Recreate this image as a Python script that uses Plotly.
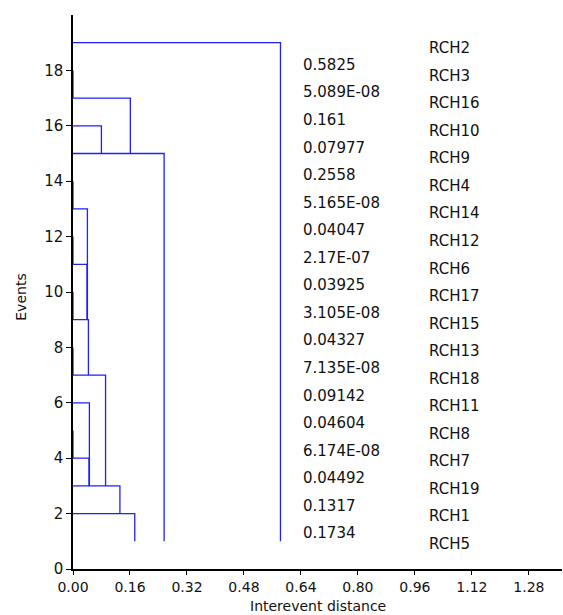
import plotly.graph_objects as go

# Leaf labels, top to bottom
leaves = ["RCH2", "RCH3", "RCH16", "RCH10", "RCH9", "RCH4", "RCH14", "RCH12", "RCH6",
          "RCH17", "RCH15", "RCH13", "RCH18", "RCH11", "RCH8", "RCH7", "RCH19", "RCH1", "RCH5"]

# Merge distances between consecutive leaves (top to bottom)
distances = [0.5825, 5.089e-08, 0.161, 0.07977, 0.2558, 5.165e-08, 0.04047, 2.17e-07,
             0.03925, 3.105e-08, 0.04327, 7.135e-08, 0.09142, 0.04604, 6.174e-08,
             0.04492, 0.1317, 0.1734]

distance_text = ["0.5825", "5.089E-08", "0.161", "0.07977", "0.2558", "5.165E-08", "0.04047",
                 "2.17E-07", "0.03925", "3.105E-08", "0.04327", "7.135E-08", "0.09142",
                 "0.04604", "6.174E-08", "0.04492", "0.1317", "0.1734"]

x_ticks = [0.00, 0.16, 0.32, 0.48, 0.64, 0.80, 0.96, 1.12, 1.28]
y_ticks = [0, 2, 4, 6, 8, 10, 12, 14, 16, 18]

n = len(leaves)
top = n  # y level of the first merge

xs, ys = [], []
for k, d in enumerate(distances):
    y = top - k
    # vertical goes down to next merge with larger distance
    y_bot = 1
    for j in range(k + 1, len(distances)):
        if distances[j] > d:
            y_bot = top - j
            break
    xs += [0, d, d, None]
    ys += [y, y, y_bot, None]

fig = go.Figure()
fig.add_trace(go.Scatter(x=xs, y=ys, mode="lines",
                         line=dict(color="#1f1fff", width=1.3),
                         hoverinfo="skip", showlegend=False))

font = "DejaVu Sans"
tc = "#111"
H, T, B = 615, 15, 46
ph = H - T - B
annotations = []
for k, t in enumerate(distance_text):
    annotations.append(dict(x=0.64, y=18.2 - k * 0.995, text=t, showarrow=False,
                            xanchor="left", yanchor="middle", xref="x", yref="y",
                            font=dict(family=font, size=15, color=tc)))
for i, t in enumerate(leaves):
    annotations.append(dict(x=0.993, y=18.8 - i * 0.994, text=t, showarrow=False,
                            xanchor="left", yanchor="middle", xref="x", yref="y",
                            font=dict(family=font, size=15, color=tc)))
# axis titles
annotations.append(dict(x=0.5, y=-(606 - (H - B)) / ph, xref="paper", yref="paper",
                        text="Interevent distance",
                        showarrow=False, xanchor="center", yanchor="middle",
                        font=dict(family=font, size=14, color=tc)))
annotations.append(dict(x=-0.108, y=0.49, xref="paper", yref="paper", text="Events",
                        showarrow=False, xanchor="center", yanchor="middle", textangle=-90,
                        font=dict(family=font, size=14, color=tc)))

fig.update_layout(
    width=563, height=H,
    margin=dict(l=73, r=1, t=T, b=B),
    plot_bgcolor="white", paper_bgcolor="white",
    font=dict(family=font, size=15, color=tc),
    annotations=annotations,
    xaxis=dict(range=[0, 1.373], tickvals=x_ticks, tickformat=".2f",
               showgrid=False, zeroline=False, showline=True, linecolor="black",
               linewidth=1.5, ticks="outside", ticklen=4, tickcolor="black",
               tickfont=dict(family=font, size=14, color=tc),
               automargin=False),
    yaxis=dict(range=[0, 20], tickvals=y_ticks,
               showgrid=False, zeroline=False, showline=True, linecolor="black",
               linewidth=1.5, ticks="outside", ticklen=5, tickcolor="black",
               tickfont=dict(family=font, size=15, color=tc),
               automargin=False),
)

fig.write_html("out.html")
